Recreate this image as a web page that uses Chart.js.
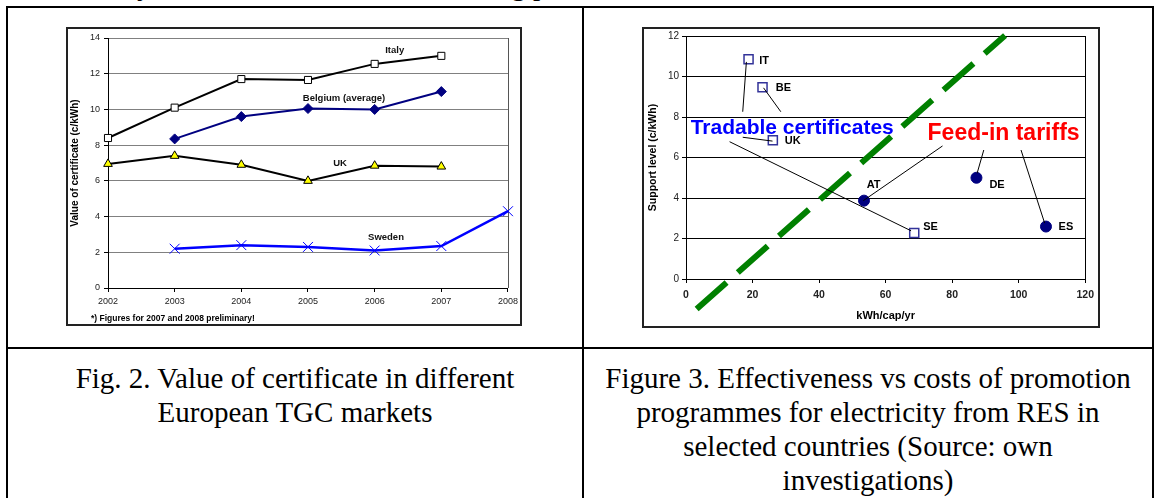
<!DOCTYPE html>
<html><head><meta charset="utf-8">
<script src="https://cdn.jsdelivr.net/npm/chart.js@4.4.1/dist/chart.umd.min.js"></script>
<style>
html,body{margin:0;padding:0;background:#fff;width:1155px;height:498px;overflow:hidden;position:relative;font-family:'Liberation Serif','Times New Roman',serif;}
.abs{position:absolute;}
#topline{left:0;top:-29px;font-size:29px;line-height:29px;white-space:nowrap;color:#000;}
#table{left:6px;top:6px;width:1148px;height:540px;border:2px solid #000;box-sizing:border-box;background:#fff;}
#vdiv{left:582px;top:6px;width:2px;height:540px;background:#000;}
#hdiv{left:6px;top:347px;width:1148px;height:2px;background:#000;}
.box{border:2px solid #222;box-sizing:border-box;pointer-events:none;}
.cap{font-size:29px;line-height:34px;text-align:center;color:#000;white-space:nowrap;}
#foot{left:91px;top:313px;font:bold 8.5px 'Liberation Sans',Arial,sans-serif;color:#000;white-space:nowrap;}
</style></head>
<body>
<div id="topline" class="abs">rules, mainly the amount of certificates being produced and the model used.</div>
<div id="table" class="abs"></div>
<div id="vdiv" class="abs"></div>
<div id="hdiv" class="abs"></div>

<canvas id="c1" class="abs" style="left:66px;top:27px;" width="456" height="299"></canvas>
<div class="abs box" style="left:66px;top:27px;width:456px;height:299px;"></div>
<div id="foot" class="abs">*) Figures for 2007 and 2008 preliminary!</div>

<canvas id="c2" class="abs" style="left:642px;top:27px;" width="458" height="301"></canvas>
<div class="abs box" style="left:642px;top:27px;width:458px;height:301px;"></div>

<div class="abs cap" style="left:7px;top:361px;width:576px;">Fig. 2. Value of certificate in different<br>European TGC markets</div>
<div class="abs cap" style="left:584px;top:361px;width:568px;">Figure 3. Effectiveness vs costs of promotion<br>programmes for electricity from RES in<br>selected countries (Source: own<br>investigations)</div>

<script>
// ---------- Fig. 2 data ----------
const years = ['2002','2003','2004','2005','2006','2007','2008'];
const italy   = [8.4, 10.1, 11.7, 11.65, 12.55, 13.0, null];
const belgium = [null, 8.35, 9.6, 10.05, 10.0, 11.0, null];
const uk      = [6.95, 7.4, 6.9, 6.0, 6.85, 6.8, null];
const sweden  = [null, 2.2, 2.4, 2.3, 2.1, 2.35, 4.3];
const yTicksLeft = [0, 2, 4, 6, 8, 10, 12, 14];

// ---------- Fig. 3 data ----------
const tgcCodes  = ['IT', 'BE', 'UK', 'SE'];
const tgcX      = [18.8, 23.0, 26.1, 68.6];
const tgcY      = [10.85, 9.47, 6.85, 2.27];
const fitCodes  = ['AT', 'DE', 'ES'];
const fitX      = [53.5, 87.3, 108.2];
const fitY      = [3.87, 5.0, 2.59];
const boundaryX = [3.2, 95.9];
const boundaryY = [-1.48, 12.03];
const xTicksRight = [0, 20, 40, 60, 80, 100, 120];
const yTicksRight = [0, 2, 4, 6, 8, 10, 12];

const SANS = "'Liberation Sans', Arial, sans-serif";

function framePlugin(color){
  return {
    id:'frame',
    beforeDatasetsDraw(chart){
      const a = chart.chartArea, c = chart.ctx;
      c.save(); c.strokeStyle = color; c.lineWidth = 1;
      c.beginPath();
      c.moveTo(Math.round(a.right)+0.5, a.top);
      c.lineTo(Math.round(a.right)+0.5, a.bottom);
      c.stroke(); c.restore();
    }
  };
}

// ----- labels for Fig. 2 (anchored in data units) -----
const leftLabels = [
  {text:'Italy', x:4.3, y:13.33},
  {text:'Belgium (average)', x:3.54, y:10.64},
  {text:'UK', x:3.48, y:7.0},
  {text:'Sweden', x:4.17, y:2.86}
];
const leftLabelPlugin = {
  id:'leftLabels',
  afterDatasetsDraw(chart){
    const c = chart.ctx, xs = chart.scales.x, ys = chart.scales.y;
    c.save();
    c.font = 'bold 9.5px ' + SANS;
    c.fillStyle = '#111'; c.textAlign = 'center'; c.textBaseline = 'middle';
    leftLabels.forEach(l => c.fillText(l.text, xs.getPixelForValue(l.x), ys.getPixelForValue(l.y)));
    c.restore();
  }
};

new Chart(document.getElementById('c1'), {
  type:'line',
  data:{
    labels: years,
    datasets:[
      {label:'Italy', data:italy, borderColor:'#000', borderWidth:2, tension:0,
       pointStyle:'rect', pointRadius:5, pointBackgroundColor:'#fff', pointBorderColor:'#000', pointBorderWidth:1},
      {label:'Belgium (average)', data:belgium, borderColor:'#000080', borderWidth:2, tension:0,
       pointStyle:'rectRot', pointRadius:5, pointBackgroundColor:'#000080', pointBorderColor:'#000080', pointBorderWidth:1},
      {label:'UK', data:uk, borderColor:'#000', borderWidth:2, tension:0,
       pointStyle:'triangle', pointRadius:5, pointBackgroundColor:'#ffff00', pointBorderColor:'#000', pointBorderWidth:1},
      {label:'Sweden', data:sweden, borderColor:'#0000ff', borderWidth:2.5, tension:0,
       pointStyle:'crossRot', pointRadius:7, pointBackgroundColor:'#0000ff', pointBorderColor:'#0000ff', pointBorderWidth:1}
    ]
  },
  options:{
    responsive:false, animation:false,
    layout:{padding:{top:11, right:11, left:0, bottom:0}},
    plugins:{legend:{display:false}, tooltip:{enabled:false}},
    scales:{
      x:{
        offset:false,
        grid:{drawOnChartArea:false, drawTicks:true, tickLength:4, tickColor:'#000'},
        border:{color:'#000', width:1},
        ticks:{color:'#222', font:{family:SANS, size:9}, padding:4, maxRotation:0, autoSkip:false},
        afterFit(s){ s.height = 38; }
      },
      y:{
        min:0, max:14,
        afterBuildTicks(s){ s.ticks = yTicksLeft.map(v => ({value:v})); },
        grid:{color:'#808080', tickLength:4, tickColor:'#000'},
        border:{color:'#000', width:1},
        ticks:{color:'#222', font:{family:SANS, size:9}, padding:4},
        title:{display:true, text:'Value of certificate (c/kWh)', color:'#000',
               font:{family:SANS, size:10, weight:'bold'}, padding:{top:3, bottom:0}},
        afterFit(s){ s.width = 42; }
      }
    }
  },
  plugins:[framePlugin('#555'), leftLabelPlugin]
});

// ----- annotations for Fig. 3 -----
const rightLabels = [
  {text:'IT', x:22.0, y:10.75}, {text:'BE', x:27.0, y:9.44}, {text:'UK', x:29.7, y:6.83},
  {text:'SE', x:71.3, y:2.59}, {text:'AT', x:54.3, y:4.65}, {text:'DE', x:91.2, y:4.65},
  {text:'ES', x:112.0, y:2.59}
];
const groupLabels = [
  {text:'Tradable certificates', x:1.4, y:7.45, color:'#0000ff', size:21},
  {text:'Feed-in tariffs', x:72.6, y:7.16, color:'#ff0000', size:23}
];
const leaderLines = [
  [[18.15,10.72],[17.05,8.26]],
  [[23.3,9.44],[28.5,8.26]],
  [[17.05,7.0],[26.0,6.81]],
  [[13.1,6.78],[67.65,2.38]],
  [[77.1,6.57],[53.3,3.87]],
  [[89.5,6.37],[87.5,5.22]],
  [[100.7,6.37],[107.8,2.76]]
];
const rightLabelPlugin = {
  id:'rightLabels',
  afterDatasetsDraw(chart){
    const c = chart.ctx, xs = chart.scales.x, ys = chart.scales.y;
    c.save();
    c.textAlign = 'left'; c.textBaseline = 'middle';
    c.font = 'bold 11px ' + SANS; c.fillStyle = '#000';
    rightLabels.forEach(l => c.fillText(l.text, xs.getPixelForValue(l.x), ys.getPixelForValue(l.y)));
    groupLabels.forEach(l => {
      c.font = 'bold ' + l.size + 'px ' + SANS; c.fillStyle = l.color;
      c.fillText(l.text, xs.getPixelForValue(l.x), ys.getPixelForValue(l.y));
    });
    c.restore();
  }
};

const leaderDatasets = leaderLines.map(seg => ({
  type:'line', data:seg.map(p => ({x:p[0], y:p[1]})), borderColor:'#000', borderWidth:1,
  pointRadius:0, fill:false, tension:0, order:0
}));

new Chart(document.getElementById('c2'), {
  type:'scatter',
  data:{
    datasets:[
      {label:'Tradable certificates', data:tgcX.map((x,i) => ({x, y:tgcY[i]})),
       pointStyle:'rect', pointRadius:6.4, pointBackgroundColor:'rgba(255,255,255,0)',
       pointBorderColor:'#333399', pointBorderWidth:1.5, order:1},
      {label:'Feed-in tariffs', data:fitX.map((x,i) => ({x, y:fitY[i]})),
       pointStyle:'circle', pointRadius:5.5, pointBackgroundColor:'#000080',
       pointBorderColor:'#000080', pointBorderWidth:1, order:1},
      {type:'line', label:'boundary', data:boundaryX.map((x,i) => ({x, y:boundaryY[i]})),
       borderColor:'#008000', borderWidth:6, borderDash:[40,15], pointRadius:0, tension:0,
       fill:false, clip:false, order:3},
      ...leaderDatasets
    ]
  },
  options:{
    responsive:false, animation:false,
    layout:{padding:{top:9, right:11, left:0, bottom:0}},
    plugins:{legend:{display:false}, tooltip:{enabled:false}},
    scales:{
      x:{
        type:'linear', min:0, max:120,
        afterBuildTicks(s){ s.ticks = xTicksRight.map(v => ({value:v})); },
        grid:{drawOnChartArea:false, drawTicks:true, tickLength:4, tickColor:'#000'},
        border:{color:'#000', width:1},
        ticks:{color:'#222', font:{family:SANS, size:10.5, weight:'bold'}, padding:6, maxRotation:0},
        title:{display:true, text:'kWh/cap/yr', color:'#000',
               font:{family:SANS, size:11, weight:'bold'}, padding:{top:0, bottom:5}},
        afterFit(s){ s.height = 49; }
      },
      y:{
        min:0, max:12,
        afterBuildTicks(s){ s.ticks = yTicksRight.map(v => ({value:v})); },
        grid:{color:'#000', tickLength:4, tickColor:'#000'},
        border:{color:'#000', width:1},
        ticks:{color:'#222', font:{family:SANS, size:10}, padding:3},
        title:{display:true, text:'Support level (c/kWh)', color:'#000',
               font:{family:SANS, size:10.5, weight:'bold'}, padding:{top:5, bottom:0}},
        afterFit(s){ s.width = 44; }
      }
    }
  },
  plugins:[framePlugin('#000'), rightLabelPlugin]
});
</script>
</body></html>
